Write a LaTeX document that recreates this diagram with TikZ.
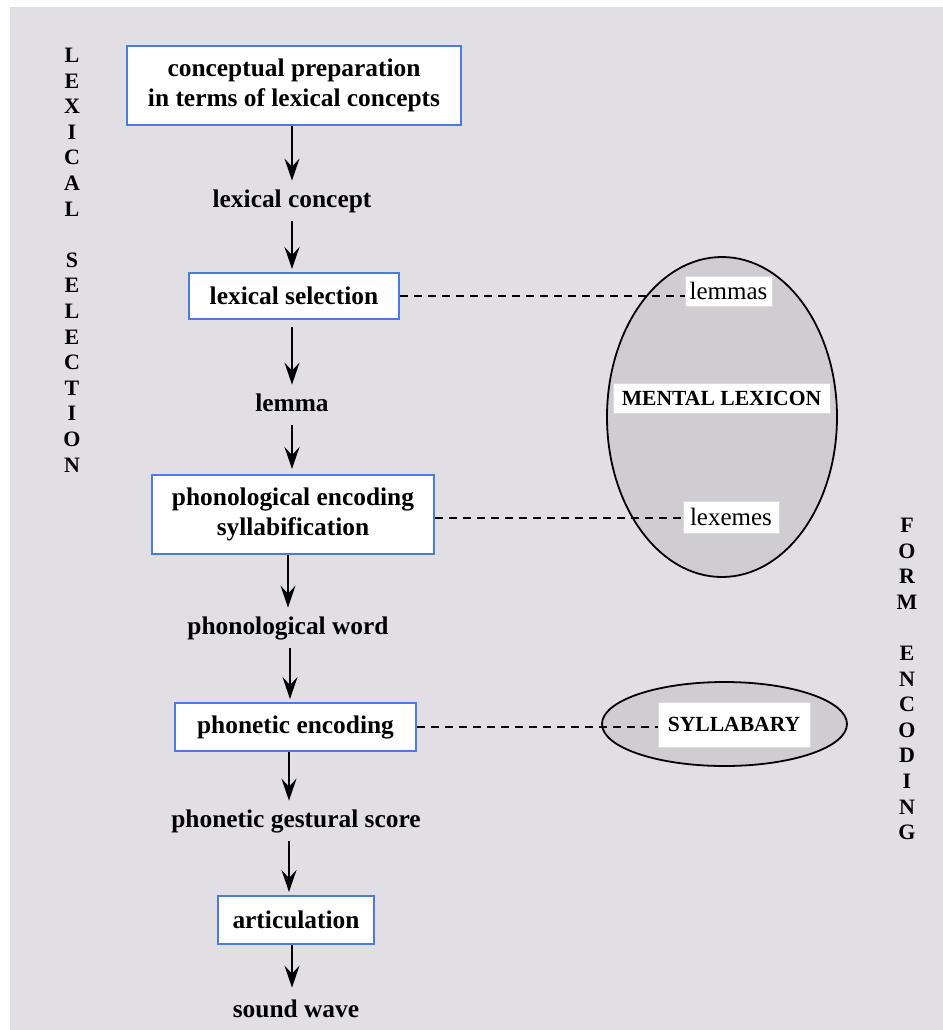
\documentclass[tikz,border=0pt]{standalone}
\usepackage{fontspec}
\setmainfont{Liberation Serif}
\usetikzlibrary{arrows.meta,shapes.geometric}

\definecolor{pagebg}{RGB}{225,222,228}
\definecolor{lexfill}{RGB}{207,204,210}
\definecolor{boxblue}{RGB}{74,122,226}

\begin{document}
\begin{tikzpicture}[x=0.5pt,y=-0.5pt,
  stage/.style={draw=boxblue, fill=white, line width=1pt, inner sep=0pt,
    font=\fontsize{12.7}{15}\selectfont\bfseries, align=center},
  product/.style={inner sep=0pt, minimum height=20pt, text height=9pt, text depth=3pt,
    font=\fontsize{12.7}{15}\selectfont\bfseries},
  flow/.style={line width=1pt, -{Stealth[length=11pt,width=7.5pt,inset=4pt]}},
  link/.style={dash pattern=on 4pt off 3pt, line width=0.9pt},
  store/.style={ellipse, draw=black, fill=lexfill, line width=0.9pt, inner sep=0pt},
  tag/.style={fill=white, draw=white!85!black, line width=0.4pt, inner sep=0pt},
  plaintag/.style={tag, font=\fontsize{12.5}{15}\selectfont},
  boldtag/.style={tag, font=\fontsize{10.8}{13}\selectfont\bfseries},
  spine/.style={font=\fontsize{11}{12.8}\selectfont\bfseries, align=center, inner sep=0pt}
]
% page and panel
\useasboundingbox (0,0) rectangle (943,1030);
\fill[white] (0,0) rectangle (943,1030);
\fill[pagebg] (10,7) rectangle (943,1030);

% side captions
\node[spine] (lexsel) at (72,260) {L\\E\\X\\I\\C\\A\\L\\\mbox{}\\S\\E\\L\\E\\C\\T\\I\\O\\N};
\node[spine] (formenc) at (907,679) {F\\O\\R\\M\\\mbox{}\\E\\N\\C\\O\\D\\I\\N\\G};

% processing stages and their products
\node[stage, minimum width=167pt, minimum height=39.5pt] (prep) at (294,85.5)
  {conceptual preparation\\in terms of lexical concepts};
\node[product] (lc) at (292,201) {lexical concept};
\node[stage, minimum width=105pt, minimum height=23pt] (sel) at (294,296) {lexical selection};
\node[product] (lem) at (292,405) {lemma};
\node[stage, minimum width=141pt, minimum height=39.5pt] (phon) at (293,514.5)
  {phonological encoding\\syllabification};
\node[product] (pw) at (288,628) {phonological word};
\node[stage, minimum width=120.5pt, minimum height=24pt] (pe) at (295.5,727) {phonetic encoding};
\node[product] (pgs) at (296,821) {phonetic gestural score};
\node[stage, minimum width=78pt, minimum height=24pt] (art) at (296,920) {articulation};
\node[product] (sw) at (296,1011) {sound wave};

% arrows
\draw[flow] (prep.south -| lc) -- (lc.north);
\draw[flow, shorten >=1.5pt] (lc.south) -- (lc.south |- sel.north);
\draw[flow, shorten <=3.5pt] (sel.south -| lem) -- (lem.north);
\draw[flow, shorten >=2.5pt] (lem.south) -- (lem.south |- phon.north);
\draw[flow] (phon.south -| pw) -- (pw.north);
\draw[flow, shorten >=1.5pt] ([xshift=1pt]pw.south) -- ([xshift=1pt]pw.south |- pe.north);
\draw[flow] ([xshift=-3.5pt]pe.south -| pgs) -- ([xshift=-3.5pt]pgs.north);
\draw[flow, shorten >=1.5pt] ([xshift=-3.5pt]pgs.south) -- ([xshift=-3.5pt]pgs.south |- art.north);
\draw[flow, shorten >=1.5pt] ([xshift=-2pt]art.south -| sw) -- ([xshift=-2pt]sw.north);

% stores
\node[store, minimum width=115pt, minimum height=160pt] (lexicon) at (722,417) {};
\node[store, minimum width=122.5pt, minimum height=42pt] (syllabary) at (724.5,724) {};

% store labels
\node[plaintag, minimum width=43.5pt, minimum height=15pt] (lemmas) at (728.5,291) {lemmas};
\node[boldtag, minimum width=108.5pt, minimum height=15pt] (mlex) at (721.5,398) {MENTAL LEXICON};
\node[plaintag, minimum width=48pt, minimum height=16pt] (lexemes) at (731,517) {lexemes};
\node[boldtag, minimum width=76pt, minimum height=22.5pt] (syl) at (734,724.5) {SYLLABARY};

% access links
\draw[link] (sel.east) -- (sel.east -| lemmas.west);
\draw[link] ([yshift=-1.75pt]phon.east) -- ([yshift=-1.75pt]phon.east -| lexemes.west);
\draw[link] (pe.east) -- (pe.east -| syl.west);
\end{tikzpicture}
\end{document}
